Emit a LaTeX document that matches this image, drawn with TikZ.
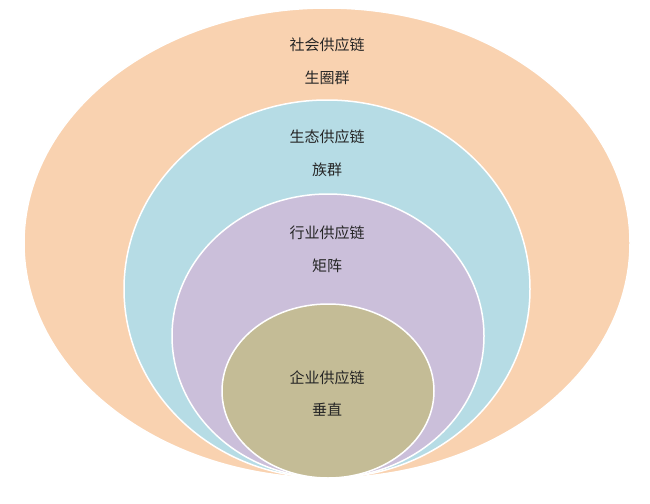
\documentclass[tikz,border=0pt]{standalone}
\usepackage{fontspec}
\setmainfont{Noto Sans CJK SC}
\usetikzlibrary{shapes.geometric,positioning}
\definecolor{shehui}{HTML}{F9D2B0}
\definecolor{shengtai}{HTML}{B6DCE5}
\definecolor{hangye}{HTML}{CBBFDA}
\definecolor{qiye}{HTML}{C4BC96}
\begin{document}
\begin{tikzpicture}[x=1pt, y=-1pt, font=\fontsize{15}{18}\selectfont]
    \tikzstyle{ring}=[ellipse, draw=white, line width=1.5pt, inner sep=0pt]
    \tikzstyle{lbl}=[text=black!85, align=center]
    \useasboundingbox (0,0) rectangle (650,503);
    \node[ring, fill=shehui,   minimum width=606pt, minimum height=470pt] (S) at (327,243) {};
    \node[ring, fill=shengtai, minimum width=406pt, minimum height=378pt] (E) at (327,289) {};
    \node[ring, fill=hangye,   minimum width=312pt, minimum height=284pt] (H) at (328,336) {};
    \node[ring, fill=qiye,     minimum width=212pt, minimum height=174pt] (Q) at (328,391) {};

    \node[lbl] (s1) at (327,45)  {社会供应链};
    \node[lbl] (s2) at (327,78)  {生圈群};
    \node[lbl] (e1) at (327,137) {生态供应链};
    \node[lbl] (e2) at (327,170) {族群};
    \node[lbl] (h1) at (327,233) {行业供应链};
    \node[lbl] (h2) at (327,266) {矩阵};
    \node[lbl] (q1) at (327,378) {企业供应链};
    \node[lbl] (q2) at (327,410) {垂直};
\end{tikzpicture}
\end{document}
